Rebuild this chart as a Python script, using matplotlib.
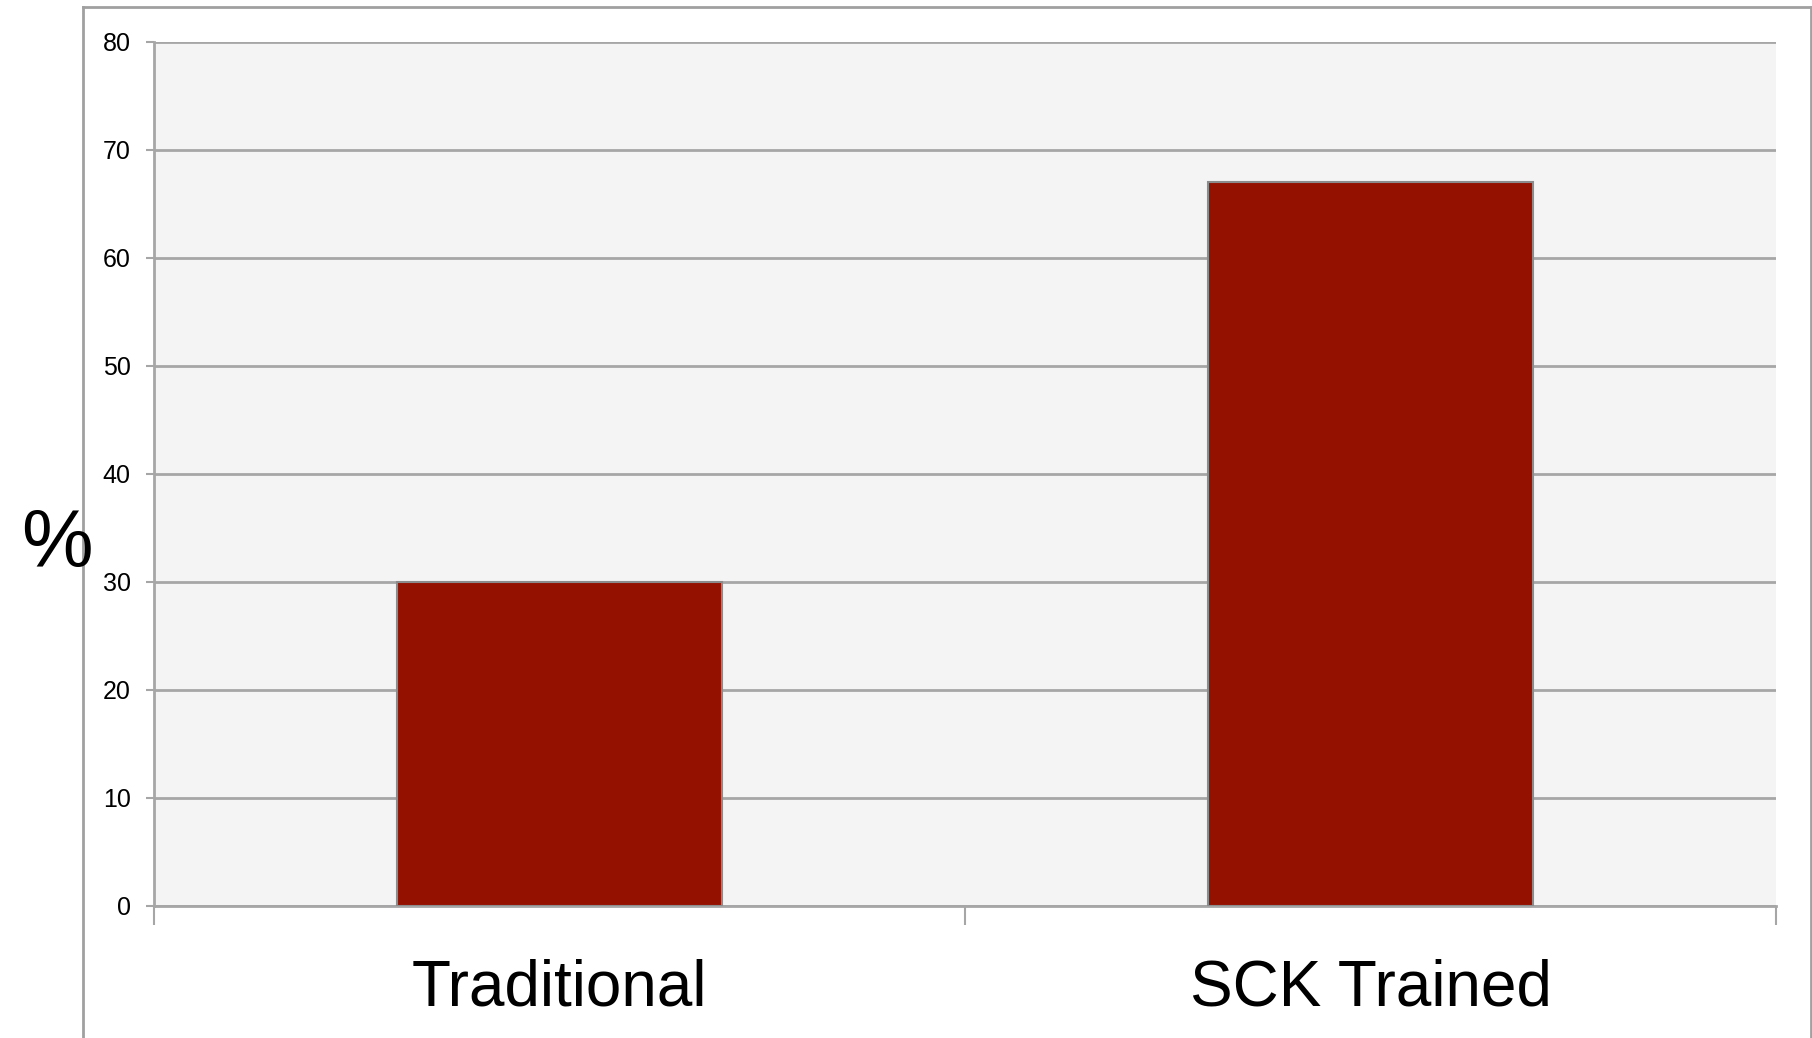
import matplotlib.pyplot as plt
from matplotlib.lines import Line2D

# Dados
categorias = ['Traditional', 'SCK Trained']
valores = [30, 67]
yticks = [0, 10, 20, 30, 40, 50, 60, 70, 80]

plt.rcParams['font.family'] = ['Liberation Sans', 'DejaVu Sans']

fig = plt.figure(figsize=(18.12, 10.38), dpi=100)
ax = fig.add_axes([0.08499, 0.12717, 0.89514, 0.83237])
ax.set_facecolor('#f4f4f4')

posicoes = [i + 0.5 for i in range(len(categorias))]
ax.bar(posicoes, valores, width=0.4, color='#941100', edgecolor='#8c8c8c', linewidth=1.5, zorder=3)

ax.set_xlim(0, len(categorias))
ax.set_ylim(0, 80)
ax.set_yticks(yticks)
ax.yaxis.grid(True, color='#a6a6a6', linewidth=2, zorder=0)
ax.set_axisbelow(True)

# Rótulos das categorias no centro, marcas nas divisões
ax.set_xticks(posicoes)
ax.set_xticklabels(categorias, fontsize=46)
ax.set_xticks(range(len(categorias) + 1), minor=True)
ax.tick_params(axis='x', which='major', length=0, pad=38)
ax.tick_params(axis='x', which='minor', length=13.7, width=1.5, color='#a6a6a6')
ax.tick_params(axis='y', length=5.8, width=1.5, color='#a6a6a6', labelsize=18, pad=11)

for lado in ['top', 'right']:
    ax.spines[lado].set_visible(False)
for lado in ['left', 'bottom']:
    ax.spines[lado].set_color('#a6a6a6')
    ax.spines[lado].set_linewidth(2)

# Símbolo de percentagem no lugar do rótulo do eixo Y
fig.text(57 / 1812, 1 - 546 / 1038, '%', fontsize=58, ha='center', va='center')

# Moldura externa (esquerda, topo e direita)
x0, x1, y0 = 83 / 1812, 1810.5 / 1812, 1 - 7 / 1038
for xs, ys in [([x0, x0], [0, y0]), ([x0, x1], [y0, y0]), ([x1, x1], [y0, 0])]:
    fig.add_artist(Line2D(xs, ys, color='#a0a0a0', linewidth=2, transform=fig.transFigure))

plt.savefig('out.png', dpi=100)
